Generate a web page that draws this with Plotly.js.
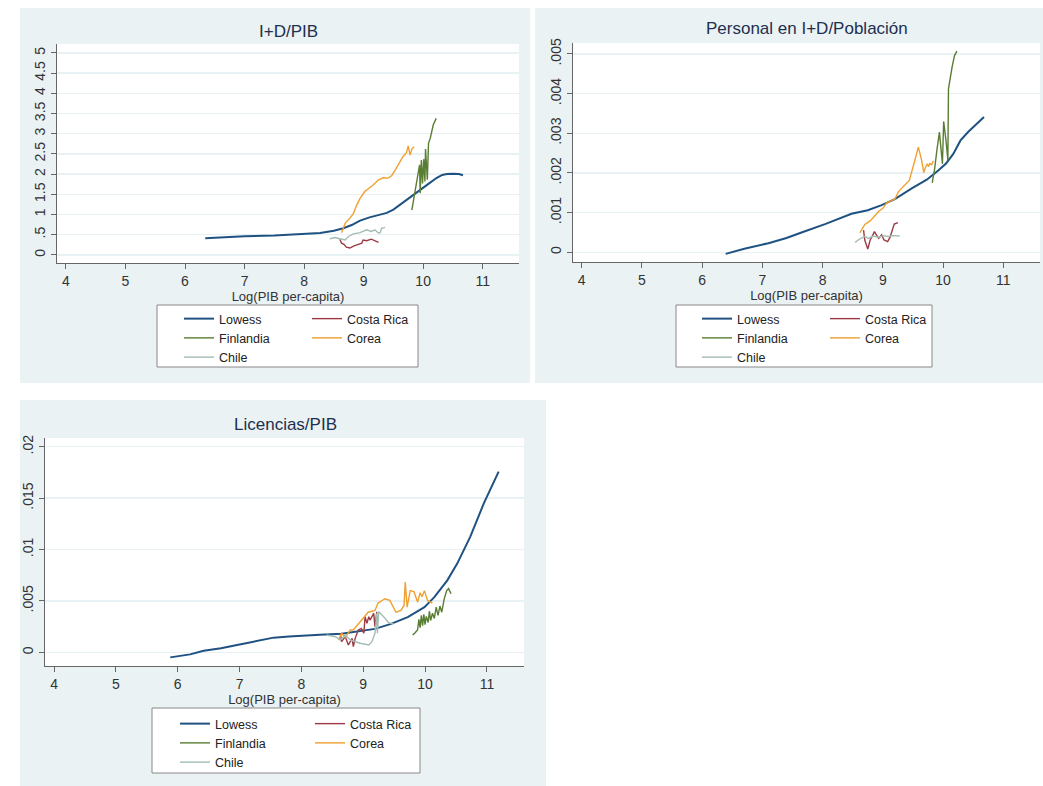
<!DOCTYPE html>
<html><head><meta charset="utf-8">
<script src="https://cdn.plot.ly/plotly-3.0.1.min.js"></script>
<style>html,body{margin:0;padding:0;background:#fff}</style>
</head><body><div id="chart" style="width:1043px;height:786px"></div>
<script>
// ---------- Panel 1: I+D/PIB ----------
const lowess1_x = [6.34, 6.7, 7.0, 7.5, 8.0, 8.27, 8.5, 8.66, 8.8, 8.94, 9.1, 9.25, 9.39, 9.5, 9.67, 9.8, 9.95, 10.1, 10.23, 10.32, 10.4, 10.5, 10.6, 10.67];
const lowess1_y = [0.41, 0.44, 0.46, 0.48, 0.51, 0.54, 0.60, 0.66, 0.74, 0.85, 0.93, 0.98, 1.04, 1.12, 1.31, 1.45, 1.61, 1.77, 1.91, 1.98, 2.0, 2.01, 2.0, 1.97];
const costa1_x = [8.60, 8.63, 8.67, 8.71, 8.77, 8.83, 8.91, 8.97, 8.99, 9.05, 9.13, 9.16, 9.22, 9.25];
const costa1_y = [0.39, 0.29, 0.26, 0.19, 0.17, 0.22, 0.26, 0.29, 0.37, 0.35, 0.39, 0.37, 0.35, 0.31];
const finl1_x = [9.81, 9.87, 9.94, 9.95, 9.97, 9.99, 10.01, 10.03, 10.04, 10.07, 10.09, 10.12, 10.17, 10.22];
const finl1_y = [1.11, 1.65, 2.23, 1.53, 2.35, 1.77, 2.37, 1.82, 2.62, 1.86, 2.76, 2.89, 3.22, 3.38];
const corea1_x = [8.63, 8.69, 8.77, 8.83, 8.88, 8.94, 9.02, 9.09, 9.16, 9.25, 9.33, 9.41, 9.47, 9.53, 9.58, 9.66, 9.72, 9.75, 9.78, 9.81, 9.85];
const corea1_y = [0.55, 0.78, 0.91, 1.03, 1.22, 1.40, 1.57, 1.65, 1.73, 1.86, 1.91, 1.90, 1.96, 2.10, 2.23, 2.43, 2.53, 2.70, 2.47, 2.62, 2.68];
const chile1_x = [8.43, 8.52, 8.60, 8.69, 8.74, 8.83, 8.94, 9.05, 9.13, 9.19, 9.25, 9.28, 9.30, 9.36];
const chile1_y = [0.40, 0.43, 0.40, 0.37, 0.45, 0.52, 0.55, 0.62, 0.58, 0.62, 0.54, 0.55, 0.66, 0.68];

// ---------- Panel 2: Personal en I+D/Población ----------
const lowess2_x = [6.39, 6.7, 7.10, 7.4, 7.65, 8.04, 8.48, 8.75, 8.98, 9.20, 9.48, 9.73, 9.92, 10.05, 10.17, 10.29, 10.42, 10.53, 10.68];
const lowess2_y = [-0.00004, 0.00009, 0.00023, 0.00036, 0.0005, 0.00071, 0.00097, 0.00106, 0.00119, 0.00134, 0.00161, 0.00183, 0.00206, 0.00224, 0.00248, 0.00282, 0.00304, 0.0032, 0.00341];
const costa2_x = [8.68, 8.70, 8.75, 8.79, 8.83, 8.86, 8.93, 8.98, 9.02, 9.08, 9.12, 9.15, 9.19, 9.25];
const costa2_y = [0.00056, 0.00031, 0.00008, 0.00031, 0.00042, 0.00052, 0.00035, 0.00044, 0.00031, 0.00027, 0.00038, 0.0005, 0.00071, 0.00075];
const finl2_x = [9.82, 9.86, 9.90, 9.94, 9.99, 10.01, 10.05, 10.08, 10.09, 10.12, 10.15, 10.19, 10.23];
const finl2_y = [0.00175, 0.0021, 0.0026, 0.00303, 0.00223, 0.0033, 0.0028, 0.00232, 0.00412, 0.00445, 0.00467, 0.00496, 0.00507];
const corea2_x = [8.62, 8.70, 8.79, 8.86, 8.93, 9.01, 9.06, 9.15, 9.20, 9.26, 9.33, 9.40, 9.44, 9.52, 9.59, 9.64, 9.68, 9.71, 9.74, 9.76, 9.78, 9.81, 9.84];
const corea2_y = [0.00049, 0.00070, 0.00079, 0.00092, 0.00103, 0.00112, 0.00124, 0.00131, 0.00134, 0.00153, 0.00163, 0.00174, 0.00181, 0.00225, 0.00265, 0.00235, 0.00201, 0.00215, 0.00223, 0.00216, 0.00224, 0.00221, 0.00231];
const chile2_x = [8.54, 8.62, 8.70, 8.76, 8.84, 8.93, 9.01, 9.09, 9.17, 9.28];
const chile2_y = [0.00025, 0.00034, 0.0004, 0.00035, 0.00041, 0.00038, 0.00042, 0.0004, 0.00042, 0.00041];

// ---------- Panel 3: Licencias/PIB ----------
const lowess3_x = [5.88, 6.2, 6.42, 6.7, 6.96, 7.25, 7.55, 7.8, 8.03, 8.3, 8.65, 8.9, 9.19, 9.45, 9.72, 9.99, 10.15, 10.36, 10.52, 10.73, 10.95, 11.19];
const lowess3_y = [-0.00049, -0.0002, 0.00016, 0.0004, 0.00071, 0.00105, 0.00143, 0.00155, 0.00165, 0.00172, 0.0018, 0.002, 0.00228, 0.00277, 0.00342, 0.00439, 0.00537, 0.007, 0.00863, 0.01123, 0.01449, 0.01758];
const costa3_x = [8.63, 8.65, 8.71, 8.76, 8.82, 8.84, 8.87, 8.92, 8.97, 9.01, 9.03, 9.06, 9.09, 9.11, 9.17, 9.19, 9.22];
const costa3_y = [0.00185, 0.00104, 0.00152, 0.00071, 0.00136, 0.00055, 0.00136, 0.00217, 0.00233, 0.00185, 0.00347, 0.00282, 0.00347, 0.00314, 0.00379, 0.0025, 0.00395];
const finl3_x = [9.80, 9.84, 9.88, 9.90, 9.92, 9.94, 9.96, 9.98, 10.00, 10.02, 10.05, 10.07, 10.09, 10.12, 10.15, 10.18, 10.21, 10.24, 10.27, 10.31, 10.35, 10.38, 10.42];
const finl3_y = [0.0017, 0.0019, 0.0022, 0.0032, 0.0024, 0.0036, 0.0026, 0.0037, 0.0027, 0.0035, 0.0029, 0.0040, 0.0031, 0.0038, 0.0033, 0.0044, 0.0036, 0.0045, 0.0039, 0.0052, 0.0060, 0.0062, 0.0057];
const corea3_x = [8.60, 8.65, 8.71, 8.79, 8.84, 8.92, 9.00, 9.08, 9.19, 9.24, 9.30, 9.35, 9.43, 9.49, 9.53, 9.61, 9.66, 9.68, 9.71, 9.76, 9.82, 9.88, 9.92, 9.95, 9.99, 10.04, 10.12];
const corea3_y = [0.0012, 0.00185, 0.00146, 0.00217, 0.00217, 0.00277, 0.00326, 0.0039, 0.00407, 0.00479, 0.00502, 0.00521, 0.00505, 0.00433, 0.0039, 0.00407, 0.00456, 0.00684, 0.0044, 0.006, 0.0059, 0.00488, 0.0058, 0.0054, 0.006, 0.00505, 0.00479];
const chile3_x = [8.41, 8.55, 8.63, 8.71, 8.79, 8.87, 8.95, 9.09, 9.14, 9.19, 9.22, 9.23, 9.25, 9.33, 9.41, 9.49];
const chile3_y = [0.00169, 0.00152, 0.0012, 0.00169, 0.0012, 0.00104, 0.00088, 0.00071, 0.00104, 0.00185, 0.00379, 0.00185, 0.00395, 0.00347, 0.00288, 0.00276];

// ---------- Labels ----------
const panelTitles = ['I+D/PIB', 'Personal en I+D/Población', 'Licencias/PIB'];
const xTitle = 'Log(PIB per-capita)';
const xTicks = [4, 5, 6, 7, 8, 9, 10, 11];
const y1Ticks = [0, 0.5, 1, 1.5, 2, 2.5, 3, 3.5, 4, 4.5, 5];
const y1Text = ['0', '.5', '1', '1.5', '2', '2.5', '3', '3.5', '4', '4.5', '5'];
const y2Ticks = [0, 0.001, 0.002, 0.003, 0.004, 0.005];
const y2Text = ['0', '.001', '.002', '.003', '.004', '.005'];
const y3Ticks = [0, 0.005, 0.01, 0.015, 0.02];
const y3Text = ['0', '.005', '.01', '.015', '.02'];
const seriesNames = ['Lowess', 'Costa Rica', 'Finlandia', 'Corea', 'Chile'];

// ---------- Styling ----------
const W = 1043, H = 786;
const PX = v => v / W, PY = v => 1 - v / H;
const colors = {Lowess: '#1f5282', 'Costa Rica': '#9b3a44', Finlandia: '#5a7d34', Corea: '#f0a030', Chile: '#a3bdb3'};
const FONT = '"Liberation Sans", Arial, Helvetica, sans-serif';

function tr(x, y, name, xa, ya, leg) {
  return {type: 'scatter', mode: 'lines', x: x, y: y, name: name, xaxis: xa, yaxis: ya,
    legend: leg, showlegend: true,
    line: {color: colors[name], width: name === 'Lowess' ? 2 : 1.4}};
}
// legend column 1: Lowess, Finlandia, Chile ; column 2: Costa Rica, Corea
function col(name, a, b) { return (name === 'Costa Rica' || name === 'Corea') ? b : a; }

const panels = [
  {xa: 'x', ya: 'y', la: 'legend', lb: 'legend2', data: [[lowess1_x, lowess1_y], [costa1_x, costa1_y], [finl1_x, finl1_y], [corea1_x, corea1_y], [chile1_x, chile1_y]]},
  {xa: 'x2', ya: 'y2', la: 'legend3', lb: 'legend4', data: [[lowess2_x, lowess2_y], [costa2_x, costa2_y], [finl2_x, finl2_y], [corea2_x, corea2_y], [chile2_x, chile2_y]]},
  {xa: 'x3', ya: 'y3', la: 'legend5', lb: 'legend6', data: [[lowess3_x, lowess3_y], [costa3_x, costa3_y], [finl3_x, finl3_y], [corea3_x, corea3_y], [chile3_x, chile3_y]]}
];
const traces = [];
panels.forEach(p => {
  p.data.forEach((d, i) => {
    const nm = seriesNames[i];
    traces.push(tr(d[0], d[1], nm, p.xa, p.ya, col(nm, p.la, p.lb)));
  });
});

function xax(dom, range, anchor) {
  return {domain: dom, range: range, anchor: anchor, tickvals: xTicks, ticks: 'outside', ticklen: 5,
    tickcolor: '#666', showline: true, linecolor: '#666', linewidth: 1, showgrid: false, zeroline: false,
    tickfont: {size: 14, color: '#333', family: FONT},
    title: {text: xTitle, font: {size: 13, color: '#333', family: FONT}, standoff: 1}};
}
function yax(dom, range, anchor, tv, tt) {
  return {domain: dom, range: range, anchor: anchor, tickvals: tv, ticktext: tt, tickangle: -90,
    ticks: 'outside', ticklen: 5, tickcolor: '#666', showline: true, linecolor: '#666', linewidth: 1,
    showgrid: true, gridcolor: '#e8f1f3', gridwidth: 1.5, zeroline: false,
    tickfont: {size: 14, color: '#333', family: FONT}};
}
function legend(xpx, ypx) {
  return {x: PX(xpx), y: PY(ypx), xanchor: 'left', yanchor: 'top', xref: 'paper', yref: 'paper',
    bgcolor: 'rgba(0,0,0,0)', borderwidth: 0, font: {size: 12.5, color: '#222', family: FONT},
    orientation: 'v', traceorder: 'normal'};
}
function rect(x0, y0, x1, y1, fill, line) {
  return {type: 'rect', xref: 'paper', yref: 'paper', x0: PX(x0), x1: PX(x1), y0: PY(y1), y1: PY(y0),
    fillcolor: fill, line: line ? {color: line, width: 1} : {width: 0}, layer: 'below'};
}
function plotBg(xa, ya) {
  return {type: 'rect', xref: xa + ' domain', yref: ya + ' domain', x0: 0, x1: 1, y0: 0, y1: 1,
    fillcolor: '#ffffff', line: {width: 0}, layer: 'below'};
}
const panelBg = '#eaf2f4';

const layout = {
  width: W, height: H, margin: {l: 0, r: 0, t: 0, b: 0},
  paper_bgcolor: '#ffffff', plot_bgcolor: '#ffffff',
  font: {family: FONT, color: '#333'},
  xaxis: xax([PX(57), PX(519)], [3.85, 11.61], 'y'),
  yaxis: yax([PY(263), PY(44)], [-0.2, 5.22], 'x', y1Ticks, y1Text),
  xaxis2: xax([PX(573), PX(1040)], [3.855, 11.61], 'y2'),
  yaxis2: yax([PY(262), PY(43)], [-0.000245, 0.005277], 'x2', y2Ticks, y2Text),
  xaxis3: xax([PX(45), PX(524)], [3.854, 11.60], 'y3'),
  yaxis3: yax([PY(666), PY(438)], [-0.00133, 0.02085], 'x3', y3Ticks, y3Text),
  legend: legend(179, 304), legend2: legend(307, 304),
  legend3: legend(697, 304), legend4: legend(825, 304),
  legend5: legend(175, 709), legend6: legend(310, 709),
  shapes: [
    rect(20, 8, 530, 383, panelBg), rect(535, 8, 1043, 383, panelBg), rect(20, 400, 546, 786, panelBg),
    plotBg('x', 'y'), plotBg('x2', 'y2'), plotBg('x3', 'y3'),
    rect(157, 305, 418, 367, '#ffffff', '#888888'),
    rect(676, 305, 932, 367, '#ffffff', '#888888'),
    rect(152, 708, 420, 773, '#ffffff', '#888888')
  ],
  annotations: [
    {text: panelTitles[0], xref: 'paper', yref: 'paper', x: PX(288), y: PY(31), showarrow: false, xanchor: 'center', yanchor: 'middle', font: {size: 17, color: '#1e2f4f', family: FONT}},
    {text: panelTitles[1], xref: 'paper', yref: 'paper', x: PX(807), y: PY(29), showarrow: false, xanchor: 'center', yanchor: 'middle', font: {size: 17, color: '#1e2f4f', family: FONT}},
    {text: panelTitles[2], xref: 'paper', yref: 'paper', x: PX(285), y: PY(424), showarrow: false, xanchor: 'center', yanchor: 'middle', font: {size: 17, color: '#1e2f4f', family: FONT}}
  ]
};
Plotly.newPlot('chart', traces, layout, {displayModeBar: false, staticPlot: true});
</script></body></html>
